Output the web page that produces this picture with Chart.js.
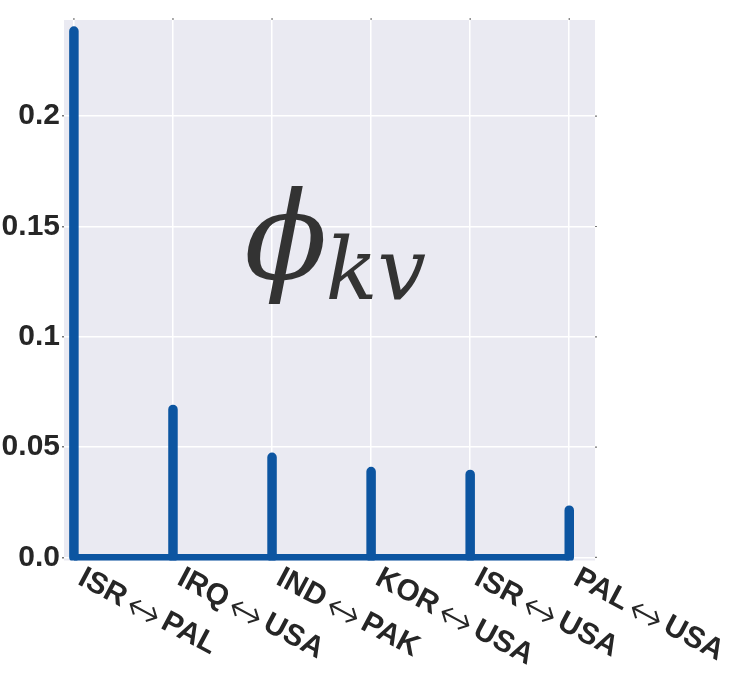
<!DOCTYPE html>
<html>
<head>
<meta charset="utf-8">
<script src="https://cdn.jsdelivr.net/npm/chart.js@4/dist/chart.umd.min.js"></script>
<style>
  html, body { margin: 0; padding: 0; background: #ffffff; }
  #wrap { width: 735px; height: 679px; position: relative; }
</style>
</head>
<body>
<div id="wrap"><canvas id="chart" width="735" height="679"></canvas></div>
<script>
// Dyad categories (left country, right country) and their phi_kv scores
const leftCountries  = ['ISR', 'IRQ', 'IND', 'KOR', 'ISR', 'PAL'];
const rightCountries = ['PAL', 'USA', 'PAK', 'USA', 'USA', 'USA'];
const phiValues      = [0.2386, 0.0671, 0.0454, 0.0389, 0.0376, 0.0214];

// Axis ticks
const xTicks      = [0, 1, 2, 3, 4, 5];
const yTicks      = [0, 0.05, 0.1, 0.15, 0.2];
const yTickLabels = ['0.0', '0.05', '0.1', '0.15', '0.2'];

const STEM_BLUE = '#0c55a1';
const PANEL_BG  = '#eaeaf2';
const INK       = '#262626';

// One polyline per stem, separated by gaps
const stemPoints = [];
phiValues.forEach((v, i) => {
  stemPoints.push({ x: xTicks[i], y: 0 });
  stemPoints.push({ x: xTicks[i], y: v });
  stemPoints.push({ x: xTicks[i], y: null });
});
const baselinePoints = [
  { x: xTicks[0], y: 0 },
  { x: xTicks[xTicks.length - 1], y: 0 }
];

// Shaded panel behind the grid
const panelBackground = {
  id: 'panelBackground',
  beforeDraw(chart) {
    const { ctx, chartArea: a } = chart;
    ctx.save();
    ctx.fillStyle = PANEL_BG;
    ctx.fillRect(a.left, a.top, a.right - a.left, a.bottom - a.top);
    ctx.restore();
  }
};

// Small outward tick marks on the top and right edges of the panel
const edgeTicks = {
  id: 'edgeTicks',
  afterDraw(chart) {
    const { ctx, chartArea: a, scales } = chart;
    ctx.save();
    ctx.strokeStyle = '#777777';
    ctx.lineWidth = 1.2;
    ctx.beginPath();
    xTicks.forEach(t => {
      const px = scales.x.getPixelForValue(t);
      ctx.moveTo(px, a.top);
      ctx.lineTo(px, a.top - 2);
    });
    yTicks.forEach(t => {
      const py = scales.y.getPixelForValue(t);
      ctx.moveTo(a.right, py);
      ctx.lineTo(a.right + 2, py);
    });
    ctx.stroke();
    ctx.restore();
  }
};

// Rotated dyad labels hanging down-right from each tick
const dyadLabels = {
  id: 'dyadLabels',
  afterDraw(chart) {
    const { ctx, scales } = chart;
    const xs = scales.x;
    const top = chart.chartArea.bottom + 3.5;
    const angle = 28 * Math.PI / 180;
    const boldFont = 'bold 30px "Liberation Sans", Arial, sans-serif';
    const arrowFont = '200 42px "DejaVu Sans ExtraLight", "DejaVu Sans", sans-serif';
    const arrowSlot = 28;
    ctx.save();
    ctx.fillStyle = INK;
    ctx.textBaseline = 'alphabetic';
    ctx.textAlign = 'left';
    xTicks.forEach((t, i) => {
      const px = xs.getPixelForValue(t) + 13;
      ctx.save();
      ctx.translate(px, top);
      ctx.rotate(angle);
      const base = 22;
      let u = 0;
      ctx.font = boldFont;
      ctx.fillText(leftCountries[i], u, base);
      u += ctx.measureText(leftCountries[i]).width + 8;
      ctx.font = arrowFont;
      const aw = ctx.measureText('\u2194').width;
      ctx.fillText('\u2194', u + (arrowSlot - aw) / 2, base + 6);
      u += arrowSlot + 8;
      ctx.font = boldFont;
      ctx.fillText(rightCountries[i], u, base);
      ctx.restore();
    });
    ctx.restore();
  }
};

// Large math annotation inside the panel
const PHI_ANCHOR = { x: 1.72, y: 0.1262 };
const phiLabel = {
  id: 'phiLabel',
  afterDraw(chart) {
    const { ctx, scales } = chart;
    const bx = scales.x.getPixelForValue(PHI_ANCHOR.x);
    const by = scales.y.getPixelForValue(PHI_ANCHOR.y);
    ctx.save();
    ctx.fillStyle = '#333333';
    ctx.textBaseline = 'alphabetic';
    ctx.textAlign = 'left';
    ctx.font = 'italic 122px "DejaVu Serif", "Liberation Serif", serif';
    ctx.fillText('\u03d5', bx, by);
    const w = ctx.measureText('\u03d5').width;
    ctx.font = 'italic 86px "DejaVu Serif", "Liberation Serif", serif';
    ctx.fillText('kv', bx + w - 2, by + 20);
    ctx.restore();
  }
};

new Chart(document.getElementById('chart'), {
  type: 'line',
  data: {
    datasets: [
      {
        data: stemPoints,
        borderColor: STEM_BLUE,
        borderWidth: 9.5,
        borderCapStyle: 'round',
        pointRadius: 0,
        spanGaps: false,
        tension: 0,
        clip: 0
      },
      {
        data: baselinePoints,
        borderColor: STEM_BLUE,
        borderWidth: 7,
        borderCapStyle: 'butt',
        pointRadius: 0,
        tension: 0,
        clip: 0
      }
    ]
  },
  options: {
    responsive: false,
    animation: false,
    layout: { padding: { left: 0, top: 16, right: 140, bottom: 118.5 } },
    plugins: {
      legend: { display: false },
      tooltip: { enabled: false }
    },
    scales: {
      x: {
        type: 'linear',
        min: -0.1,
        max: 5.26,
        afterBuildTicks(scale) { scale.ticks = xTicks.map(v => ({ value: v })); },
        afterFit(scale) { scale.height = 0; },
        ticks: { display: false },
        grid: { color: '#ffffff', lineWidth: 1.5, drawTicks: false },
        border: { display: false }
      },
      y: {
        type: 'linear',
        min: -0.0014,
        max: 0.2436,
        afterBuildTicks(scale) { scale.ticks = yTicks.map(v => ({ value: v })); },
        afterFit(scale) { scale.width = 64; },
        ticks: {
          color: INK,
          padding: 2,
          font: { family: '"Liberation Sans", Arial, sans-serif', size: 30, weight: 'bold' },
          callback(value) {
            const k = yTicks.indexOf(value);
            return k >= 0 ? yTickLabels[k] : '';
          }
        },
        grid: { color: '#ffffff', lineWidth: 1.5, tickColor: '#777777', tickLength: 2 },
        border: { display: false }
      }
    }
  },
  plugins: [panelBackground, edgeTicks, dyadLabels, phiLabel]
});
</script>
</body>
</html>
